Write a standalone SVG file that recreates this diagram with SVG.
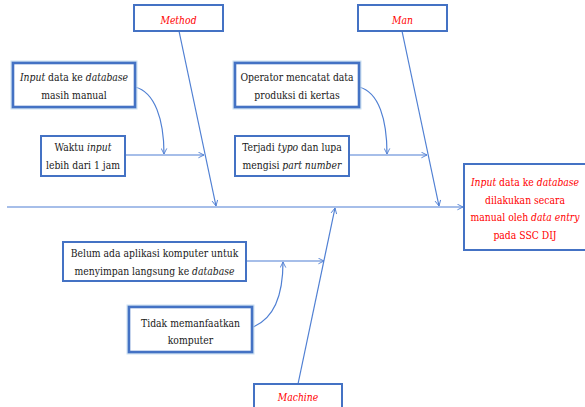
<svg xmlns="http://www.w3.org/2000/svg" width="585" height="407" viewBox="0 0 585 407">
<style>
  .bg{fill:#ffffff}
  .box{fill:#ffffff;stroke:#4472C4;stroke-width:2}
  .glow{fill:none;stroke:#BDD7EE;stroke-width:5;opacity:0.8}
  .boxg{fill:#ffffff;stroke:#4472C4;stroke-width:2.6}
  .t{font-family:"DejaVu Serif Condensed","DejaVu Serif",serif;font-stretch:condensed;font-size:10.3px;fill:#1a1a1a;text-anchor:middle}
  .r{fill:#FF0000}
  .i{font-style:italic}
  .ln{fill:none;stroke:#4F7FD3;stroke-width:1.2}
</style>
<defs>
  <marker id="ah" viewBox="0 0 10 10" refX="9" refY="5" markerWidth="7" markerHeight="7" markerUnits="userSpaceOnUse" orient="auto">
    <path d="M1,1 L9,5 L1,9" fill="none" stroke="#4F7FD3" stroke-width="1.3"/>
  </marker>
</defs>
<rect class="bg" x="0" y="0" width="585" height="407"/>

<g id="connectors">
  <line class="ln" x1="7" y1="207" x2="463" y2="207" marker-end="url(#ah)"/>
  <line class="ln" x1="179" y1="31" x2="216" y2="206" marker-end="url(#ah)"/>
  <line class="ln" x1="402" y1="31" x2="439" y2="206" marker-end="url(#ah)"/>
  <line class="ln" x1="298" y1="384" x2="335" y2="208" marker-end="url(#ah)"/>
  <line class="ln" x1="125" y1="155" x2="204" y2="155" marker-end="url(#ah)"/>
  <line class="ln" x1="349" y1="155" x2="427" y2="155" marker-end="url(#ah)"/>
  <line class="ln" x1="246" y1="261" x2="324" y2="261" marker-end="url(#ah)"/>
  <path class="ln" d="M135,87 C155,92 164,120 164,154" marker-end="url(#ah)"/>
  <path class="ln" d="M359,87 C379,92 387,120 387,154" marker-end="url(#ah)"/>
  <path class="ln" d="M253,327 C275,318 283,295 283,262" marker-end="url(#ah)"/>
</g>

<g id="method">
  <rect class="box" x="134" y="5" width="89" height="26"/>
  <text class="t r i" x="178.5" y="24">Method</text>
</g>
<g id="man">
  <rect class="box" x="358" y="5" width="89" height="26"/>
  <text class="t r i" x="402.5" y="24">Man</text>
</g>
<g id="machine">
  <rect class="box" x="254" y="384" width="88" height="30"/>
  <text class="t r i" x="298" y="401">Machine</text>
</g>

<g id="input-manual">
  <rect class="glow" x="13" y="63" width="122" height="44"/>
  <rect class="boxg" x="13" y="63" width="122" height="44"/>
  <text class="t" x="74" y="81"><tspan class="i">Input</tspan> data ke <tspan class="i">database</tspan></text>
  <text class="t" x="74" y="99">masih manual</text>
</g>
<g id="waktu">
  <rect class="box" x="41" y="136" width="84" height="40"/>
  <text class="t" x="83" y="151">Waktu <tspan class="i">input</tspan></text>
  <text class="t" x="83" y="169">lebih dari 1 jam</text>
</g>
<g id="operator">
  <rect class="glow" x="235" y="63" width="124" height="44"/>
  <rect class="boxg" x="235" y="63" width="124" height="44"/>
  <text class="t" x="297" y="81">Operator mencatat data</text>
  <text class="t" x="297" y="99">produksi di kertas</text>
</g>
<g id="terjadi">
  <rect class="box" x="235" y="136" width="114" height="40"/>
  <text class="t" x="292" y="151">Terjadi <tspan class="i">typo</tspan> dan lupa</text>
  <text class="t" x="292" y="169">mengisi <tspan class="i">part number</tspan></text>
</g>
<g id="belum">
  <rect class="box" x="63" y="242" width="183" height="39"/>
  <text class="t" x="154.5" y="257">Belum ada aplikasi komputer untuk</text>
  <text class="t" x="154.5" y="275">menyimpan langsung ke <tspan class="i">database</tspan></text>
</g>
<g id="tidak">
  <rect class="glow" x="129" y="307" width="123" height="45"/>
  <rect class="boxg" x="129" y="307" width="123" height="45"/>
  <text class="t" x="190.5" y="327">Tidak memanfaatkan</text>
  <text class="t" x="190.5" y="344">komputer</text>
</g>
<g id="effect">
  <rect class="box" x="464" y="164" width="126" height="86"/>
  <text class="t r" x="525" y="186"><tspan class="i">Input</tspan> data ke <tspan class="i">database</tspan></text>
  <text class="t r" x="525" y="203.5">dilakukan secara</text>
  <text class="t r" x="525" y="221">manual oleh <tspan class="i">data entry</tspan></text>
  <text class="t r" x="525" y="239">pada SSC DIJ</text>
</g>
</svg>
